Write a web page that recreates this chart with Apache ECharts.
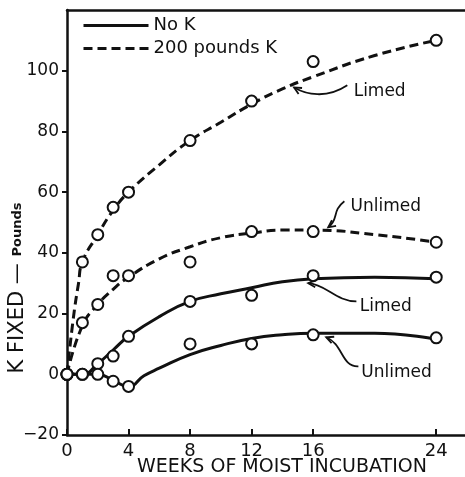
<!DOCTYPE html>
<html>
<head>
<meta charset="utf-8">
<script src="https://cdn.jsdelivr.net/npm/echarts@6/dist/echarts.min.js"></script>
<style>
  html, body { margin: 0; padding: 0; background: #fff; }
  #chart { width: 465px; height: 477px; }
</style>
</head>
<body>
<div id="chart"></div>
<script>
// observed points (circles), weeks of moist incubation
const weeks = [0, 1, 2, 3, 4, 8, 12, 16, 24];
const obsLimedK = [0, 37, 46, 55, 60, 77, 90, 103, 110];
const obsUnlimedK = [0, 17, 23, 32.5, 32.5, 37, 47, 47, 43.5];
const obsLimedNoK = [0, 0, 3.5, 6, 12.5, 24, 26, 32.5, 32];
const obsUnlimedNoK = [0, 0, 0, -2.3, -4, 10, 10, 13, 12];

// fitted curves as drawn: [week, pounds]
const curveLimedK = [[0, 0], [0.4, 18], [0.75, 30], [1, 37], [2, 46], [3, 54], [4, 60], [6, 69], [8, 77], [10, 83], [12, 89], [14, 94], [16, 98], [20, 105], [24, 110]];
const curveUnlimedK = [[0, 0], [1, 16], [2, 23], [3, 28], [4, 32], [6, 38], [8, 42], [10, 45], [12, 46.5], [14, 47.5], [16, 47.5], [20, 46], [24, 43.5]];
const curveLimedNoK = [[0, 0], [1, 0], [2, 3.5], [3, 8], [4, 12.5], [6, 19], [8, 24], [10, 26.5], [12, 28.5], [14, 30.5], [16, 31.5], [20, 32], [24, 31.5]];
const curveUnlimedNoK = [[0, 0], [1, 0], [2, 0], [3, -2], [4, -4], [5, -0.5], [6, 2], [8, 6.5], [10, 9.5], [12, 11.8], [14, 13], [16, 13.5], [20, 13.5], [24, 11.5]];

const xTicks = [0, 4, 8, 12, 16, 24];
const yTicks = [-20, 0, 20, 40, 60, 80, 100];

// callouts in data coords: text anchor, then arrow tail, two bends, tip
const callouts = [
  { text: "Limed", at: [18.6, 93], path: [[18.22, 95.2], [16.85, 90.6], [15.55, 92.2], [14.76, 94.5]] },
  { text: "Unlimed", at: [18.4, 55.3], path: [[18.03, 57.0], [17.18, 53.7], [17.7, 51.1], [16.98, 48.4]] },
  { text: "Limed", at: [19.0, 22.4], path: [[18.81, 24.0], [17.5, 24.0], [16.85, 29.6], [15.68, 30.0]] },
  { text: "Unlimed", at: [19.1, 0.7], path: [[18.94, 2.6], [17.83, 2.3], [17.96, 9.9], [16.85, 12.2]] },
];

const FONT = "DejaVu Sans";
const INK = "#111";

function curve(name, data, dashed) {
  return {
    name, type: "line", data, symbol: "none", smooth: 0.5,
    lineStyle: { color: INK, width: 3, type: dashed ? [9, 5] : "solid" },
    itemStyle: { color: INK },
    z: 2,
  };
}

function points(name, ys) {
  return {
    name, type: "scatter", data: weeks.map((w, i) => [w, ys[i]]),
    symbol: "circle", symbolSize: 11,
    itemStyle: { color: "#fff", borderColor: INK, borderWidth: 2, opacity: 1 },
    z: 3,
  };
}

const chart = echarts.init(document.getElementById("chart"), null, { renderer: "canvas" });

chart.setOption({
  animation: false,
  textStyle: { fontFamily: FONT, color: INK },
  grid: { left: 67, right: -2, top: 10, bottom: 42, outerBoundsMode: "none", containLabel: false },
  legend: {
    data: ["No K", "200 pounds K"],
    orient: "vertical",
    left: 82, top: 14, padding: 0, itemGap: 0,
    itemWidth: 65, itemHeight: 14,
    itemStyle: { color: "rgba(0,0,0,0)", borderWidth: 0, opacity: 0 },
    lineStyle: { width: 3 },
    textStyle: { fontFamily: FONT, fontSize: 18, color: INK, lineHeight: 23 },
  },
  xAxis: [
    {
      type: "value", min: 0, max: 26, interval: 4,
      axisLine: { onZero: false, lineStyle: { color: INK, width: 2.5 } },
      axisTick: { inside: true, length: 6, customValues: xTicks, lineStyle: { color: INK, width: 2 } },
      axisLabel: { customValues: xTicks, fontFamily: FONT, fontSize: 18, color: INK, margin: 7 },
      splitLine: { show: false },
      name: "WEEKS OF MOIST INCUBATION",
      nameLocation: "middle", nameGap: 23, nameMoveOverlap: false,
      nameTextStyle: { fontFamily: FONT, fontSize: 19, color: INK, padding: [0, 0, 0, 30] },
    },
    {
      type: "value", min: 0, max: 26, position: "top",
      axisLine: { show: true, onZero: false, lineStyle: { color: INK, width: 2.5 } },
      axisTick: { show: false }, axisLabel: { show: false }, splitLine: { show: false },
    },
  ],
  yAxis: {
    type: "value", min: -20, max: 120, interval: 20,
    axisLine: { show: true, onZero: false, lineStyle: { color: INK, width: 2.5 } },
    axisTick: { show: true, length: 5, customValues: yTicks, lineStyle: { color: INK, width: 2 } },
    axisLabel: {
      customValues: yTicks, fontFamily: FONT, fontSize: 17, color: INK, margin: 8,
      formatter: (v) => (v < 0 ? "\u2212" + Math.abs(v) : String(v)),
    },
    splitLine: { show: false },
  },
  series: [
    curve("No K", curveLimedNoK, false),
    curve("No K", curveUnlimedNoK, false),
    curve("200 pounds K", curveLimedK, true),
    curve("200 pounds K", curveUnlimedK, true),
    points("limed 200", obsLimedK),
    points("unlimed 200", obsUnlimedK),
    points("limed none", obsLimedNoK),
    points("unlimed none", obsUnlimedNoK),
    {
      name: "callouts", type: "scatter", data: [], z: 4,
      markPoint: {
        silent: true, symbol: "circle", symbolSize: 1,
        itemStyle: { color: "rgba(0,0,0,0)" },
        label: {
          show: true, position: "right", distance: 0,
          fontFamily: FONT, fontSize: 17, color: INK,
          formatter: (p) => p.name,
        },
        data: callouts.map((c) => ({ name: c.text, coord: c.at })),
      },
    },
  ],
});

// callout arrows, placed through the chart's own coordinate system
const toPx = (p) => chart.convertToPixel({ xAxisIndex: 0, yAxisIndex: 0 }, p);
const arrows = [];
callouts.forEach((c) => {
  const [a, b, d, tip] = c.path.map(toPx);
  arrows.push({
    type: "bezierCurve", silent: true, z: 10,
    shape: { x1: a[0], y1: a[1], cpx1: b[0], cpy1: b[1], cpx2: d[0], cpy2: d[1], x2: tip[0], y2: tip[1] },
    style: { stroke: INK, lineWidth: 1.8, fill: null },
  });
  const ang = Math.atan2(tip[1] - d[1], tip[0] - d[0]);
  const L = 8, W = 0.45;
  arrows.push({
    type: "polyline", silent: true, z: 10,
    shape: {
      points: [
        [tip[0] - L * Math.cos(ang - W), tip[1] - L * Math.sin(ang - W)],
        tip,
        [tip[0] - L * Math.cos(ang + W), tip[1] - L * Math.sin(ang + W)],
      ],
    },
    style: { stroke: INK, lineWidth: 1.8, fill: null },
  });
});

chart.setOption({
  graphic: [{
    type: "text", x: 18, y: 288, rotation: Math.PI / 2,
    style: {
      text: "K FIXED \u2014 {s|Pounds}",
      fontFamily: FONT, fontSize: 21, fill: INK,
      align: "center", verticalAlign: "middle",
      rich: { s: { fontFamily: FONT, fontSize: 13, fontWeight: "bold", fill: INK } },
    },
  }].concat(arrows),
});
</script>
</body>
</html>
